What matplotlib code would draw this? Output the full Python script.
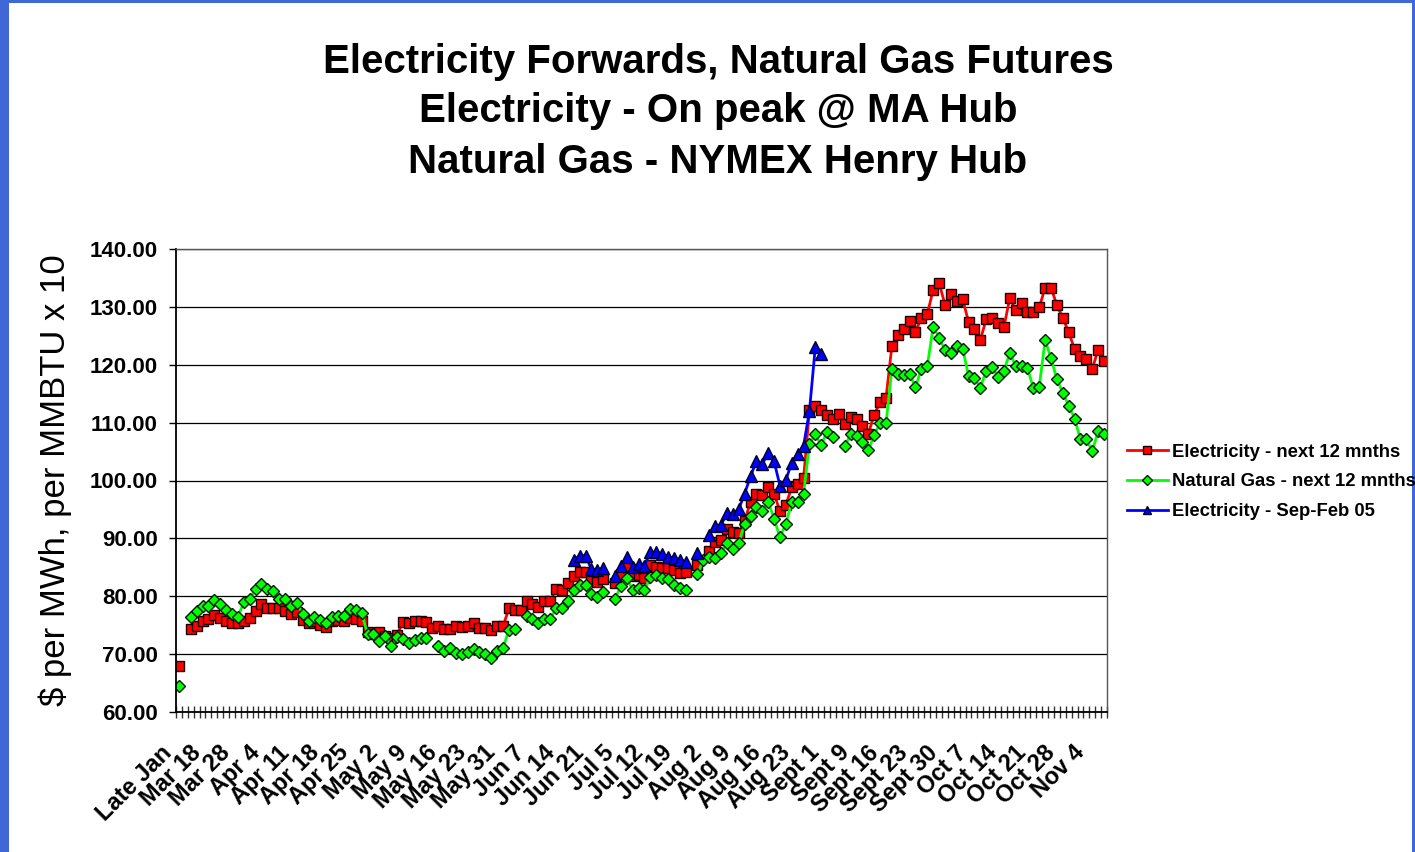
import matplotlib
matplotlib.use('Agg')

import numpy as np
import matplotlib.pyplot as plt
import matplotlib.transforms as mtransforms
from matplotlib.patches import Rectangle

plt.rcParams['font.family'] = ['Liberation Sans', 'DejaVu Sans']

nan = None

# Weekly tick labels, one every 5 trading days
tick_labels = ["Late Jan", "Mar 18", "Mar 28", "Apr 4", "Apr 11", "Apr 18", "Apr 25",
               "May 2", "May 9", "May 16", "May 23", "May 31", "Jun 7", "Jun 14",
               "Jun 21", "Jul 5", "Jul 12", "Jul 19", "Aug 2", "Aug 9", "Aug 16",
               "Aug 23", "Sept 1", "Sept 9", "Sept 16", "Sept 23", "Sept 30",
               "Oct 7", "Oct 14", "Oct 21", "Oct 28", "Nov 4"]

# Electricity - next 12 months ($/MWh)
elec_12m = [68.0, nan, 74.3, 74.8, 75.8, 76.1, 76.8, 76.25, 75.8, 75.4,
            75.4, 75.8, 76.25, 77.5, 78.6, 78.0, 78.0, 78.0, 77.5, 77.0,
            77.3, 75.95, 75.3, 75.7, 75.1, 74.7, 75.8, 75.95, 75.8, 76.25,
            76.1, 75.8, 73.9, 73.5, 73.75, 73.05, 72.7, 73.35, 75.55, 75.4,
            75.7, 75.8, 75.55, 74.6, 74.8, 74.3, 74.3, 74.8, 74.7, 74.9,
            75.4, 74.5, 74.5, 74.1, 74.8, 74.8, 77.9, 77.7, 77.7, 79.1,
            78.7, 78.15, 79.1, 79.1, 81.3, 81.15, 82.3, 83.5, 84.2, 84.2,
            82.65, 82.4, 83.0, nan, 82.3, 83.9, 85.1, 83.5, 83.7, 83.1,
            85.4, 85.1, 84.85, 84.85, 84.45, 84.1, 84.2, nan, 85.4, nan,
            87.9, 89.4, 89.75, 91.6, 91.15, 91.0, 93.0, 96.3, 97.6, 97.45,
            98.9, 97.7, 94.7, 95.85, 98.8, 99.45, 100.35, 112.1, 112.8, 112.1,
            111.3, 110.6, 111.5, 109.8, 111.05, 110.6, 109.5, 108.1, 111.4, 113.5,
            114.3, 123.3, 125.2, 126.2, 127.5, 125.7, 128.1, 128.7, 133.0, 134.15,
            130.4, 132.3, 131.0, 131.3, 127.45, 126.25, 124.3, 127.85, 128.1, 127.2,
            126.5, 131.5, 129.4, 130.7, 129.2, 129.2, 129.9, 133.3, 133.3, 130.3,
            128.1, 125.6, 122.7, 121.45, 121.0, 119.3, 122.6, 120.7]

# Natural gas - next 12 months ($/MMBTU x 10)
gas_12m = [64.5, nan, 76.5, 77.5, 78.3, 78.4, 79.3, 78.7, 77.6, 76.9,
           76.4, 79.0, 79.5, 81.3, 82.2, 81.3, 80.9, 79.5, 79.5, 78.4,
           78.85, 76.9, 75.7, 76.4, 75.95, 75.4, 76.4, 76.65, 76.65, 77.8,
           77.6, 77.1, 73.5, 73.5, 72.2, 73.1, 71.4, 72.95, 72.65, 71.9,
           72.5, 72.8, 72.8, nan, 71.45, 70.6, 71.05, 70.2, 70.0, 70.3,
           70.85, 70.45, 70.0, 69.3, 70.6, 71.05, 74.2, 74.4, nan, 76.65,
           76.1, 75.4, 76.1, 76.1, 77.9, 77.9, 79.25, 81.0, 82.0, 82.0,
           80.35, 79.95, 80.75, nan, 79.6, 81.7, 83.1, 81.15, 81.4, 81.15,
           83.3, 83.7, 83.1, 83.0, 82.0, 81.4, 81.15, nan, 83.9, 86.25,
           86.85, 86.65, 87.5, 89.15, 88.15, 89.2, 92.5, 93.8, 95.5, 94.8,
           96.3, 93.4, 90.2, 92.5, 96.3, 96.3, 97.7, 106.25, 108.0, 106.1,
           108.45, 107.6, nan, 105.95, 108.0, 107.7, 106.6, 105.2, 107.9, 109.9,
           109.9, 119.35, 118.4, 118.2, 118.4, 116.15, 119.3, 119.75, 126.6, 124.7,
           122.5, 121.95, 123.3, 122.8, 118.1, 117.7, 116.0, 119.0, 119.65, 117.9,
           119.0, 122.0, 119.8, 119.8, 119.4, 116.0, 116.2, 124.25, 121.1, 117.5,
           115.1, 112.95, 110.7, 107.1, 107.1, 105.1, 108.55, 108.1]

# Electricity - Sep-Feb 05 strip, starts late June
elec_sepfeb = [nan] * 67 + [
    86.3, 87.0, 87.0, 84.65, 84.6, 84.8, nan, 83.55, 85.3, 86.85,
    85.0, 85.5, 85.3, 87.6, 87.6, 87.3, 86.85, 86.6, 86.3, 85.9,
    nan, 87.5, nan, 90.6, 92.15, 92.35, 94.3, 94.15, 95.05, 97.7,
    100.75, 103.3, 102.8, 104.8, 103.3, 99.1, 100.1, 103.1, 104.55, 105.95,
    112.0, 123.1, 121.9] + [nan] * 48

elec_12m = np.array(elec_12m, dtype=float)
gas_12m = np.array(gas_12m, dtype=float)
elec_sepfeb = np.array(elec_sepfeb, dtype=float)
x = np.arange(len(elec_12m))

fig = plt.figure(figsize=(14.15, 8.52), dpi=100)
fig.patch.set_facecolor('#3f67d8')
# white slide area inside the blue frame
fig.patches.append(Rectangle((9 / 1415, 0), 1403 / 1415, 849 / 852,
                             transform=fig.transFigure, facecolor='white',
                             edgecolor='none', zorder=-10))

ax = fig.add_axes([176 / 1415, 1 - 712 / 852, 931 / 1415, 463 / 852])
ax.set_facecolor('white')

l1, = ax.plot(x, elec_12m, color='#ff0000', lw=2, marker='s', ms=6.8,
              mfc='#ff0000', mec='#1a0000', mew=1, label='Electricity - next 12 mnths')
l2, = ax.plot(x, gas_12m, color='#00ff00', lw=2, marker='D', ms=6,
              mfc='#00ff00', mec='#001a00', mew=1, label='Natural Gas - next 12 mnths')
l3, = ax.plot(x, elec_sepfeb, color='#0000ff', lw=2, marker='^', ms=8,
              mfc='#0000ff', mec='#000020', mew=1, label='Electricity - Sep-Feb 05')

ax.set_xlim(-0.5, len(x) - 0.5)
ax.set_ylim(60, 140)
ax.set_yticks(np.arange(60, 141, 10))
ax.set_yticklabels([f"{v:.2f}" for v in np.arange(60, 141, 10)],
                   fontsize=16, fontweight='bold')
ax.yaxis.grid(True, color='black', lw=0.9)
ax.set_axisbelow(True)

# category labels every 5 points, tick marks between categories
label_pos = np.arange(0, 5 * len(tick_labels), 5)
ax.set_xticks(label_pos)
ax.set_xticklabels(tick_labels, rotation=45, ha='right', va='top',
                   rotation_mode='anchor', fontsize=17, fontweight='bold')
ax.set_xticks(np.arange(-0.5, len(x), 1), minor=True)
ax.tick_params(axis='x', which='major', length=0, pad=21)
ax.tick_params(axis='x', which='minor', direction='inout', length=9,
               width=1, color='#333333')
ax.tick_params(axis='y', which='major', length=5, width=1, pad=8)
shift = mtransforms.ScaledTranslation(-19 / 100, 0, fig.dpi_scale_trans)
for lab in ax.get_xticklabels():
    lab.set_transform(lab.get_transform() + shift)

for side in ['left', 'bottom']:
    ax.spines[side].set_color('black')
    ax.spines[side].set_linewidth(1.3)
for side in ['top', 'right']:
    ax.spines[side].set_color('#555555')
    ax.spines[side].set_linewidth(1)

ax.set_ylabel('$ per MWh, per MMBTU x 10', fontsize=25)
ax.yaxis.set_label_coords(-0.112, 0.5)

# Three-line title
title_lines = ["Electricity Forwards, Natural Gas Futures",
               "Electricity - On peak @ MA Hub",
               "Natural Gas - NYMEX Henry Hub"]
for line, ypix in zip(title_lines, [62, 111, 162]):
    fig.text(718 / 1415, 1 - ypix / 852, line, ha='center', va='center',
             fontsize=29, fontweight='bold')

leg = ax.legend(handles=[l1, l2, l3], loc='center left',
                bbox_to_anchor=(1127 / 1415, 1 - 482 / 852),
                bbox_transform=fig.transFigure, frameon=False,
                prop={'size': 13.3, 'weight': 'bold'}, handlelength=2.2,
                handletextpad=0.25, labelspacing=0.68, borderpad=0,
                borderaxespad=0, markerscale=0.8)

plt.savefig('out.png', dpi=100)
